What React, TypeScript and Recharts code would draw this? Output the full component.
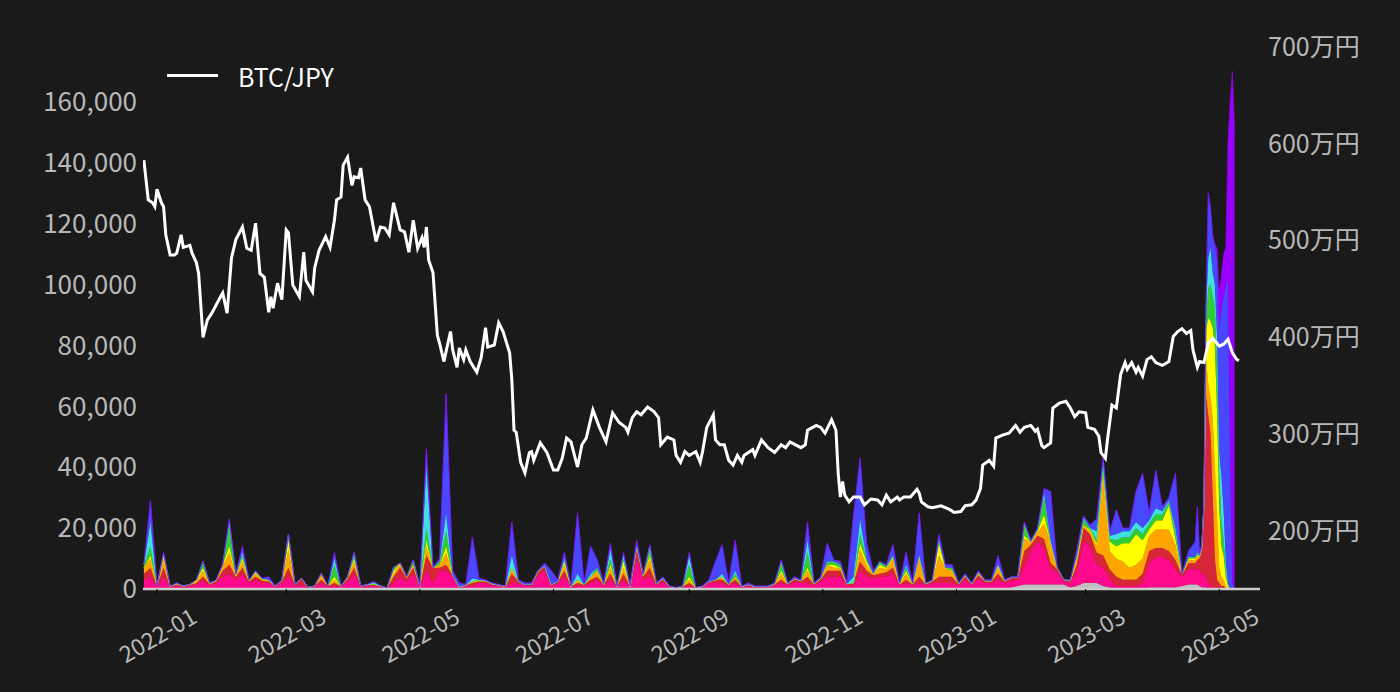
import React from 'react';
import { ComposedChart, Area, Line, XAxis, YAxis } from 'recharts';

// day 0 = 2022-01-01
const xTickDays = [0, 59, 120, 181, 243, 304, 365, 424, 485];
const xTickLabels = ['2022-01', '2022-03', '2022-05', '2022-07', '2022-09', '2022-11', '2023-01', '2023-03', '2023-05'];
const leftTicks = [0, 20, 40, 60, 80, 100, 120, 140, 160]; // thousands
const rightTicks = [200, 300, 400, 500, 600, 700]; // 万円

const areaDays = [
  -6, -3, 0, 3, 6, 9, 12, 15, 18, 21, 24, 27, 30, 33, 36, 39, 42, 45, 48, 51,
  54, 57, 60, 63, 66, 69, 72, 75, 78, 81, 84, 87, 90, 93, 96, 99, 102, 105, 108, 111,
  114, 117, 120, 123, 126, 129, 132, 135, 138, 141, 144, 147, 150, 153, 156, 159, 162, 165, 168, 171,
  174, 177, 180, 183, 186, 189, 192, 195, 198, 201, 204, 207, 210, 213, 216, 219, 222, 225, 228, 231,
  234, 237, 240, 243, 246, 249, 252, 255, 258, 261, 264, 267, 270, 273, 276, 279, 282, 285, 288, 291,
  294, 297, 300, 303, 306, 309, 312, 315, 318, 321, 324, 327, 330, 333, 336, 339, 342, 345, 348, 351,
  354, 357, 360, 363, 366, 369, 372, 375, 378, 381, 384, 387, 390, 393, 396, 399, 402, 405, 408, 411,
  414, 417, 420, 423, 426, 429, 432, 435, 438, 441, 444, 447, 450, 453, 456, 459, 462, 465, 468, 471,
  474, 475, 476, 477, 478, 479, 480, 481, 482, 483, 484, 485, 486, 487, 488, 489, 490, 491, 492,
];

// volumes in thousands, bottom layer first
const gray = [
  0, 0, 0, 0, 0, 0, 0, 0, 0, 0, 0, 0, 0, 0, 0, 0, 0, 0, 0, 0,
  0, 0, 0, 0, 0, 0, 0, 0, 0, 0, 0, 0, 0, 0, 0, 0, 0, 0, 0, 0,
  0, 0, 0, 0, 0, 0, 0, 0, 0, 0, 0, 0, 0, 0, 0, 0, 0, 0, 0, 0,
  0, 0, 0, 0, 0, 0, 0, 0, 0, 0, 0, 0, 0, 0, 0, 0, 0, 0, 0, 0,
  0, 0, 0, 0, 0, 0, 0, 0, 0, 0, 0, 0, 0, 0, 0, 0, 0, 0, 0, 0,
  0, 0, 0, 0, 0, 0, 0, 0, 0, 0, 0, 0, 0, 0, 0, 0, 0, 0, 0, 0,
  0, 0, 0, 0, 0, 0, 0, 0, 0, 0,
  0, 0, 0.5, 1, 1.5, 1.5, 1.5, 1.5, 1.5, 1.5,
  1.5, 0.5, 1, 2, 2, 2, 1, 0.5, 0, 0,
  0, 0, 0, 0.5, 0.5, 0.5, 0.5, 0.5, 1, 1.5, 1.5,
  1.5, 1, 0.5, 0.5, 0.5, 0, 0, 0, 0, 0, 0, 0, 0, 0, 0, 0, 0, 0,
];
const pink = [
  3, 4, 0.7, 4, 0.6, 1.2, 0.6, 1, 1.5, 3,
  1.2, 2, 4, 5, 3, 5, 2, 3, 2, 2,
  0.7, 2, 4, 1, 1.5, 0.4, 0.7, 2, 0.7, 1,
  0.7, 2.5, 5, 0.7, 1, 1, 0.7, 0.2, 2, 4,
  2.5, 5, 0.7, 6, 2, 6, 6, 4, 0.5, 1,
  1, 2, 2, 1.2, 1, 0.6, 2, 2, 1.2, 1,
  4.5, 6, 1, 2, 4, 0.6, 1, 1, 2, 3,
  1, 3, 0.6, 3, 0.6, 10, 3, 4, 1.2, 2.5,
  0.6, 0.3, 0.6, 1, 0.3, 0.6, 2, 2, 2, 1,
  2, 0.6, 1, 0.6, 0.6, 0.6, 1.2, 2, 1.2, 2.5,
  2, 2, 1.2, 2.5, 4, 4, 4, 1.2, 1, 6,
  4, 3.5, 4, 4, 5, 1.2, 2, 1.2, 2, 1.2,
  2, 2, 2, 2, 1.2, 3, 1.2, 3.5, 2, 2,
  3, 2, 2.5, 2, 6, 11, 14, 12, 5, 4,
  1, 1.5, 5, 14, 12, 6, 6, 3, 1, 1,
  1, 1, 2, 8, 10, 10, 9, 6, 3, 5, 5,
  5, 6, 4, 5, 3, 2, 1, 1, 0, 0, 0, 0, 0, 0, 0, 0, 0, 0,
];
const red = [
  2, 3, 0.3, 3, 0.2, 0.3, 0.2, 0.2, 0.5, 1,
  0.4, 0.5, 2, 3, 1, 2, 0.5, 1, 0.7, 0.5,
  0.2, 0.5, 3, 0.3, 2, 0.1, 0.2, 1, 0.2, 1,
  0.2, 0.8, 2, 0.2, 0.3, 0.3, 0.2, 0.1, 2, 3,
  1, 2, 0.2, 5, 5, 1, 2, 0.5, 0.2, 0.3,
  1, 0.5, 0.5, 0.3, 0.3, 0.2, 3, 0.5, 0.3, 0.5,
  1, 1.5, 0.5, 0.5, 2, 0.2, 1, 0.5, 1, 1,
  0.5, 2, 0.2, 2, 0.2, 4, 1, 3, 0.3, 0.7,
  0.2, 0.1, 0.2, 1, 0.1, 0.2, 0.5, 1, 1, 0.5,
  1, 0.2, 0.5, 0.2, 0.2, 0.2, 0.3, 1, 0.3, 0.7,
  0.5, 2, 0.3, 0.7, 2, 2, 2, 0.3, 1, 3,
  2, 1, 1, 1.5, 2, 0.3, 1, 0.3, 2, 0.3,
  0.5, 2, 2, 2, 0.3, 1, 0.3, 1, 0.5, 0.5,
  2, 0.5, 0.5, 0.5, 5, 2, 2, 3, 2, 1,
  0.3, 0.5, 2, 4, 4, 4, 4, 3, 3, 2,
  2, 2, 3, 4, 3, 3, 3, 3, 0.7, 2, 2,
  3, 3, 8, 20, 60, 55, 50, 30, 10, 3, 2, 1, 1, 0, 0, 0, 0, 0,
];
const orange = [
  2, 3, 0, 3, 0, 0.2, 0.1, 0.2, 0.5, 2,
  0.2, 0.3, 1.5, 4, 0.5, 2, 0.3, 1, 0.4, 0.3,
  0, 0.3, 6, 0.2, 0, 0, 0.1, 2, 0.1, 1,
  0, 0.5, 2, 0.1, 0.1, 0.2, 0.1, 0, 1, 1.5,
  0.3, 1, 0, 3, 0, 1, 4, 0, 0, 0,
  0.5, 0.3, 0.2, 0.2, 0, 0, 2, 0, 0, 0,
  0.5, 0, 0, 0, 2, 0, 1, 0, 1, 2,
  0, 2, 0, 2, 0, 0, 0.5, 3, 0.2, 0.3,
  0, 0, 0, 1, 0, 0, 0, 0, 1, 0,
  1, 0, 0, 0, 0, 0, 0.2, 2, 0.2, 0.3,
  0.2, 2, 0.2, 0.3, 2, 1, 1, 0.2, 0, 4,
  2, 0.5, 2, 1, 3, 0.2, 2, 0.2, 6, 0.2,
  0.2, 7, 3, 2, 0.2, 0.5, 0.2, 1, 0.2, 0.2,
  2, 0.2, 0.3, 0.3, 4, 1, 1, 5, 7, 0.5,
  0.2, 0.3, 2, 1, 1, 2, 26, 6, 6, 6,
  4, 5, 5, 5, 6, 6, 7, 5, 0.3, 1, 1,
  1, 1, 1, 1, 12, 10, 12, 25, 30, 20, 5, 3, 2, 1, 0, 0, 0, 0,
];
const yellow = [
  0, 1, 0, 1, 0, 0.1, 0.1, 0.1, 0.5, 1,
  0, 0, 0.5, 2, 0, 1, 0, 0.5, 0.2, 0,
  0, 0, 3, 0, 0, 0, 0, 0, 0, 1,
  0, 0.2, 1, 0, 0, 0, 0, 0, 1, 0,
  0, 0, 0, 2, 0, 0, 2, 0, 0, 0,
  0, 0, 0, 0, 0, 0, 0, 0, 0, 0,
  0, 0, 0, 0, 1, 0, 0, 0, 0, 0,
  0, 1, 0, 2, 0, 0, 0, 1, 0, 0,
  0, 0, 0, 1, 0, 0, 0, 0, 0, 0,
  0, 0, 0, 0, 0, 0, 0, 1, 0, 0,
  0, 1, 0, 0, 0, 1, 0, 0, 0, 2,
  1, 0, 1, 0.5, 0.5, 0, 1, 0, 1, 0,
  0, 4, 0, 0, 0, 0, 0, 0, 0, 0,
  1, 0, 0, 0, 1, 0, 0.5, 3, 0, 0,
  0, 0, 0.5, 0, 0.5, 1, 1, 3, 4, 6,
  8, 10, 6, 2, 3, 3, 8, 2, 0, 0.5, 0.5,
  0.5, 0, 0, 1, 10, 22, 25, 30, 40, 35, 20, 10, 8, 3, 1, 0, 0, 0,
];
const green = [
  1, 3, 0, 0.5, 0, 0.1, 0, 0, 0, 2,
  0.1, 0, 0, 7, 0.2, 1, 0, 0.3, 0.1, 0.2,
  0, 0, 2, 0, 0, 0, 0, 0, 0, 4,
  0, 0, 1, 0, 0, 0.2, 0, 0, 1, 0,
  0.2, 1.5, 0, 4, 0, 1, 5, 0, 0, 0,
  0, 0.2, 0, 0, 0, 0, 0, 0, 0, 0,
  0, 0, 0, 0, 1, 0, 0, 0, 0, 1,
  0, 2, 0, 1, 0, 0, 0, 3, 0, 0,
  0, 0, 0, 4, 0, 0, 0, 0, 0, 0,
  1, 0, 0, 0, 0, 0, 0, 3, 0, 0,
  0, 5, 0, 0, 1, 1, 1, 0, 0, 3,
  1, 0, 1, 0.5, 0.5, 0, 1, 0, 0, 0,
  0, 1, 0, 1, 0, 0, 0, 0, 0, 0,
  0, 0, 0, 0, 4, 0, 0.5, 6, 0, 0,
  0, 0, 0.5, 2, 0.5, 1, 2, 1, 2, 2,
  2, 2, 2, 2, 2, 2, 1, 2, 0, 0.5, 0.5,
  0.5, 0, 0, 0, 4, 10, 12, 10, 12, 15, 10, 8, 5, 2, 0.5, 0, 0, 0,
];
const cyan = [
  0, 8, 0, 0, 0, 0, 0, 0, 0, 0,
  0, 0, 0, 1, 0, 1, 0, 0, 0, 0,
  0, 0, 0, 0, 0, 0, 0, 0, 0, 2,
  0, 0, 1, 0, 0, 0.4, 0, 0, 0, 0,
  0, 0, 0, 20, 0, 0, 6, 0, 0, 0,
  1, 0, 0, 0, 0, 0, 4, 0, 0, 0,
  0, 0, 0, 0, 0, 0, 2, 0, 1, 0,
  0, 3, 0, 1, 0, 0, 0, 0, 0, 0,
  0, 0, 0, 3, 0, 0, 0, 0, 1, 0,
  1, 0, 0, 0, 0, 0, 0, 0, 0, 0,
  0, 4, 0, 0, 0, 0, 0, 0, 2, 5,
  0, 0, 0, 0, 0, 0, 1, 0, 0, 0,
  0, 0, 0, 0, 0, 0, 0, 0, 0, 0,
  0, 0, 0, 0, 0, 0, 0, 1, 0.5, 0,
  0, 0, 0, 0.5, 0, 3, 2, 1, 2, 2,
  2, 2, 2, 1, 2, 1, 0.5, 1.5, 0, 0, 0,
  0.5, 0, 0, 0, 3, 10, 12, 8, 8, 10, 8, 15, 10, 3, 0.5, 0, 0, 0,
];
const blue = [
  0, 7, 0, 0.5, 0.2, 0.1, 0, 0, 0, 0,
  0.1, 0.2, 0, 1, 0.3, 2, 0.2, 0.2, 0.1, 1,
  0.1, 0.2, 0, 0, 0, 0, 0, 0, 0, 2,
  0.1, 0, 0, 0, 0.1, 0.4, 0, 0, 0, 0,
  0, 0, 0.1, 6, 0, 1, 39, 1.5, 1.3, 0.2,
  13.5, 0.5, 0.3, 0.3, 0.2, 0.2, 11, 0.5, 0.5, 0.5,
  0, 1, 4.5, 0.5, 2, 0.2, 20, 0.5, 9, 2.5,
  0.5, 2, 0.2, 1, 0.2, 2, 0.5, 0.5, 0.3, 0.5,
  0.2, 0.1, 0.2, 1, 0.1, 0.2, 0.5, 6, 9.5, 0.5,
  10, 0.2, 0.5, 0.2, 0.2, 0.2, 0.3, 0.5, 0.3, 0.5,
  0.3, 6, 0.3, 0.5, 6, 0.5, 1, 0.3, 20, 20,
  5, 1, 0, 0.5, 3.5, 0.3, 4, 0.3, 14, 0.3,
  0.3, 2, 1, 1, 0.3, 0.5, 0.3, 0.5, 0.3, 0.3,
  3, 0.3, 0.2, 0.2, 0.5, 0.5, 0.5, 1.5, 16, 0,
  0, 0.2, 2, 0.5, 1, 4, 1, 1.5, 8, 1,
  1, 10, 18, 2.5, 12.5, 1.5, 1, 18, 0, 2, 5,
  15, 1, 1, 1, 3, 21, 13, 12, 13, 25, 40, 55, 70, 90, 100, 40, 2, 0,
];
const purple = [
  0, 0, 0, 0, 0, 0, 0, 0, 0, 0, 0, 0, 0, 0, 0, 0, 0, 0, 0, 0,
  0, 0, 0, 0, 0, 0, 0, 0, 0, 0, 0, 0, 0, 0, 0, 0, 0, 0, 0, 0,
  0, 0, 0, 0, 0, 0, 0, 0, 0, 0, 0, 0, 0, 0, 0, 0, 0, 0, 0, 0,
  0, 0, 0, 0, 0, 0, 0, 0, 0, 0, 0, 0, 0, 0, 0, 0, 0, 0, 0, 0,
  0, 0, 0, 0, 0, 0, 0, 0, 0, 0, 0, 0, 0, 0, 0, 0, 0, 0, 0, 0,
  0, 0, 0, 0, 0, 0, 0, 0, 0, 0, 0, 0, 0, 0, 0, 0, 0, 0, 0, 0,
  0, 0, 0, 0, 0, 0, 0, 0, 0, 0, 0, 0, 0, 0, 0, 0, 0, 0, 0, 0,
  0, 0, 0, 0, 0, 0, 0, 0, 0, 0, 0, 0, 0, 0, 0, 0, 0, 0, 0, 0,
  0,
  0, 0, 0, 0, 0, 0, 0, 0, 0, 4, 12, 11, 14, 13, 45, 120, 168, 150,
];

// BTC/JPY close, 万円
const lineDays = [
  -6, -4, -2, -1, 0, 2, 3, 4, 6, 8, 9, 11, 12, 15, 16, 18, 19, 21, 23, 25,
  29, 30, 32, 34, 36, 39, 41, 43, 45, 47, 49, 51, 52, 53, 55, 57, 59, 60, 62, 65,
  67, 68, 71, 72, 74, 77, 79, 81, 82, 84, 85, 87, 89, 90, 92, 93, 95, 97, 100, 102,
  104, 106, 108, 111, 113, 115, 117, 119, 121, 122, 123, 124, 126, 128, 129, 131, 134, 135, 137, 138,
  140, 141, 143, 146, 148, 150, 151, 154, 156, 158, 161, 162, 163, 164, 166, 168, 170, 171, 172, 175,
  178, 181, 183, 185, 187, 189, 192, 194, 196, 199, 202, 205, 208, 211, 214, 215, 217, 219, 221, 224,
  227, 229, 230, 233, 236, 237, 239, 241, 243, 246, 248, 249, 251, 254, 255, 257, 259, 261, 263, 265,
  267, 268, 272, 273, 276, 279, 282, 285, 287, 289, 294, 296, 297, 301, 303, 305, 308, 310, 311, 312,
  313, 314, 316, 318, 321, 323, 326, 329, 331, 333, 335, 338, 339, 341, 344, 347, 348, 349, 352, 354,
  358, 362, 364, 367, 369, 372, 374, 376, 377, 380, 382, 383, 386, 389, 392, 394, 396, 399, 401, 402,
  404, 405, 408, 409, 412, 415, 417, 419, 421, 424, 425, 428, 430, 431, 433, 434, 436, 438, 440, 442,
  443, 445, 447, 448, 450, 452, 454, 456, 459, 462, 464, 466, 468, 470, 472, 473, 475, 476, 478, 480,
  482, 485, 487, 489, 491, 493, 494,
];
const btcPrice = [
  583, 542, 539, 535, 553, 539, 535, 506, 485, 485, 487, 506, 493, 495, 487, 477, 466, 400, 418, 425,
  442, 446, 425, 482, 501, 514, 492, 490, 518, 466, 462, 426, 442, 430, 456, 439, 511, 508, 454, 442,
  488, 459, 447, 472, 490, 504, 493, 521, 542, 545, 578, 586, 557, 566, 565, 575, 542, 535, 499, 514,
  513, 506, 539, 511, 509, 488, 521, 492, 503, 493, 514, 480, 467, 402, 394, 375, 406, 387, 369, 389,
  377, 387, 375, 364, 379, 410, 390, 392, 415, 406, 384, 356, 304, 302, 271, 260, 281, 282, 273, 291,
  281, 263, 263, 275, 296, 292, 266, 289, 296, 325, 307, 292, 322, 312, 307, 302, 317, 323, 320, 328,
  323, 317, 289, 297, 294, 278, 271, 282, 278, 282, 271, 281, 307, 320, 294, 289, 289, 273, 268, 278,
  271, 278, 284, 278, 294, 286, 281, 289, 286, 292, 286, 289, 304, 309, 307, 301, 315, 304, 260, 235,
  251, 237, 230, 235, 235, 227, 233, 232, 227, 237, 230, 235, 232, 235, 235, 243, 239, 230, 225, 224,
  226, 222, 219, 220, 226, 227, 232, 244, 268, 273, 267, 296, 299, 301, 309, 302, 307, 309, 303, 305,
  288, 286, 291, 327, 332, 334, 327, 318, 323, 322, 307, 305, 298, 281, 275, 295, 330, 327, 362, 374,
  367, 374, 364, 369, 360, 377, 380, 374, 371, 375, 401, 406, 409, 404, 407, 387, 369, 375, 374, 394,
  399, 391, 393, 398, 384, 377, 376,
];

const layers = [
  { key: 'gray', color: '#c0c0c0', values: gray },
  { key: 'pink', color: '#ff0a8c', values: pink },
  { key: 'red', color: '#d62638', values: red },
  { key: 'orange', color: '#ffa500', values: orange },
  { key: 'yellow', color: '#ffff00', values: yellow },
  { key: 'green', color: '#32cd32', values: green },
  { key: 'cyan', color: '#40e0e0', values: cyan },
  { key: 'blue', color: '#4848ff', values: blue },
  { key: 'purple', color: '#9900ff', values: purple },
];

const areaData = areaDays.map((day, i) => {
  const row: Record<string, number> = { day };
  layers.forEach((l) => {
    row[l.key] = l.values[i] ?? 0;
  });
  return row;
});
const lineData = lineDays.map((day, i) => ({ day, btc: btcPrice[i] }));

const FONT = '"Noto Sans CJK JP", "Noto Sans", sans-serif';
const TICK = '#b8b8b8';

const XTick = (props: any) => {
  const { x, payload } = props;
  const label = xTickLabels[xTickDays.indexOf(payload.value)];
  return (
    <g transform={`translate(${x},634) rotate(-30)`}>
      <text textAnchor="middle" dominantBaseline="central" fill={TICK} fontSize={23} fontFamily={FONT}>
        {label}
      </text>
    </g>
  );
};

export default function App() {
  return (
    <div style={{ position: 'absolute', left: 0, top: 0, width: 1400, height: 692, background: '#1a1a1a', fontFamily: FONT }}>
      <ComposedChart width={1400} height={692} data={areaData} margin={{ top: 47, right: 0, bottom: 0, left: 0 }}>
        <XAxis
          dataKey="day"
          type="number"
          domain={[-6.4, 503.6]}
          allowDataOverflow
          ticks={xTickDays}
          height={103}
          tick={XTick}
          axisLine={{ stroke: '#cccccc', strokeWidth: 2.5 }}
          tickLine={{ stroke: '#000000' }}
          tickSize={5}
        />
        <YAxis
          yAxisId="left"
          width={143}
          domain={[0, 178]}
          allowDataOverflow
          ticks={leftTicks}
          tickFormatter={(v: number) => (v * 1000).toLocaleString('en-US')}
          axisLine={false}
          tickLine={false}
          tickSize={0}
          tickMargin={6}
          tick={{ fill: TICK, fontSize: 26, fontFamily: FONT }}
        />
        <YAxis
          yAxisId="right"
          orientation="right"
          width={140}
          domain={[140, 700]}
          allowDataOverflow
          ticks={rightTicks}
          tickFormatter={(v: number) => `${v}万円`}
          axisLine={false}
          tickLine={false}
          tickSize={0}
          tickMargin={8}
          tick={{ fill: TICK, fontSize: 25, fontFamily: FONT, textAnchor: 'start' }}
        />
        {layers.map((l) => (
          <Area
            key={l.key}
            yAxisId="left"
            type="linear"
            dataKey={l.key}
            stackId="vol"
            fill={l.color}
            fillOpacity={1}
            stroke={l.color}
            strokeWidth={0.6}
            dot={false}
            activeDot={false}
            isAnimationActive={false}
          />
        ))}
        <Line
          yAxisId="right"
          data={lineData}
          dataKey="btc"
          type="linear"
          stroke="#ffffff"
          strokeWidth={3}
          dot={false}
          activeDot={false}
          isAnimationActive={false}
        />
      </ComposedChart>
      <div style={{ position: 'absolute', left: 167, top: 74, width: 51, height: 3, background: '#ffffff' }} />
      <div style={{ position: 'absolute', left: 238, top: 59, height: 34, lineHeight: '34px', color: '#ffffff', fontSize: 25 }}>
        BTC/JPY
      </div>
    </div>
  );
}
